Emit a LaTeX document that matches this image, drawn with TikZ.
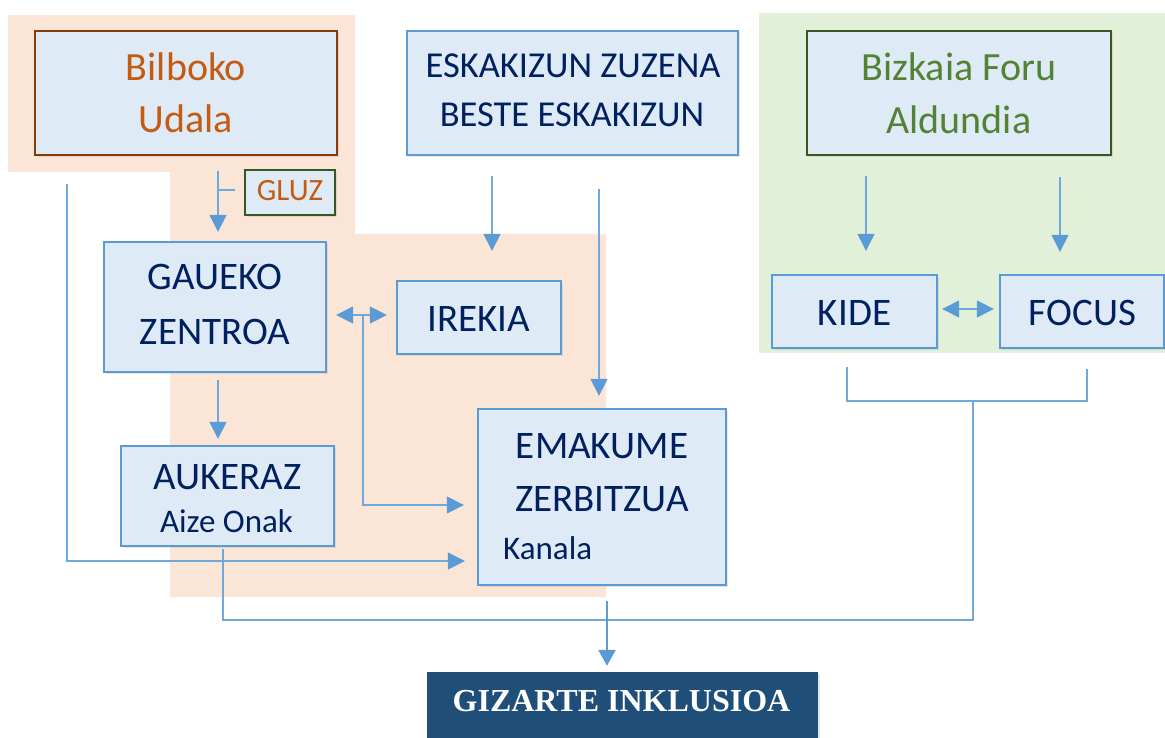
\documentclass[tikz,border=0pt]{standalone}
\usepackage{fontspec}
\setmainfont{Carlito}
\newfontfamily\titlefont{Liberation Serif}
\usetikzlibrary{arrows.meta,calc,shadows}
\definecolor{orangebg}{HTML}{FBE5D6}
\definecolor{greenbg}{HTML}{E2F0D9}
\definecolor{boxfill}{HTML}{DEEBF7}
\definecolor{boxline}{HTML}{5B9BD5}
\definecolor{navy}{HTML}{002060}
\definecolor{orangetxt}{HTML}{C55A11}
\definecolor{brownline}{HTML}{843C0C}
\definecolor{greenline}{HTML}{385723}
\definecolor{greentxt}{HTML}{548235}
\definecolor{titlefill}{HTML}{1F4E79}
\definecolor{lnc}{HTML}{6FA8DC}
\definecolor{arrc}{HTML}{5B9BD5}
\begin{document}
\begin{tikzpicture}[x=1pt,y=-1pt,
  box/.style={draw=boxline, line width=2.3pt, fill=boxfill, inner sep=0pt,
    drop shadow={shadow xshift=2pt, shadow yshift=-2pt, opacity=0.18}},
  txt/.style={anchor=base, inner sep=0pt, text=navy, font=\fontsize{39}{47}\selectfont},
  stxt/.style={anchor=base, inner sep=0pt, text=navy, font=\fontsize{33}{40}\selectfont},
  ln/.style={draw=lnc, line width=1.2pt},
  arr/.style={ln, -{Triangle[length=17pt,width=17pt,color=arrc]}},
  darr/.style={ln, {Triangle[length=17pt,width=17pt,color=arrc]}-{Triangle[length=17pt,width=17pt,color=arrc]}},
  tarr/.style={draw=arrc, line width=2.6pt, -{Triangle[length=16pt,width=17pt,color=arrc]}}
]
\useasboundingbox (0,0) rectangle (1165,738);
% background regions
\fill[orangebg] (8,15) -- (355,15) -- (355,234) -- (606,234) -- (606,597) -- (170,597) -- (170,172) -- (8,172) -- cycle;
\fill[greenbg] (759,13) rectangle (1165,353);

% boxes
\node[box, draw=brownline, minimum width=302pt, minimum height=124pt] (bilbo) at (186,93) {};
\node[box, draw=greenline, line width=1.5pt, minimum width=90pt, minimum height=45pt] (gluz) at (290,192.5) {};
\node[box, minimum width=331pt, minimum height=124pt] (eska) at (572.5,93) {};
\node[box, draw=greenline, minimum width=304pt, minimum height=124pt] (bizk) at (959,93) {};
\node[box, minimum width=222pt, minimum height=130pt] (gaueko) at (215,307) {};
\node[box, minimum width=164pt, minimum height=73pt] (irekia) at (479,317.5) {};
\node[box, minimum width=165pt, minimum height=73pt] (kide) at (854.5,311.5) {};
\node[box, minimum width=164pt, minimum height=73pt] (focus) at (1082,311.5) {};
\node[box, minimum width=213pt, minimum height=100pt] (aukeraz) at (227.5,496) {};
\node[box, minimum width=248pt, minimum height=176pt] (emak) at (602,497) {};
\node[fill=titlefill, inner sep=0pt, minimum width=391pt, minimum height=90pt,
  drop shadow={shadow xshift=2pt, shadow yshift=-2pt, opacity=0.18}] (giz) at (622.5,717) {};

% texts
\node[txt, text=orangetxt, font=\fontsize{40}{48}\selectfont] (t1) at (186,81) {Bilboko};
\node[txt, text=orangetxt, font=\fontsize{40}{48}\selectfont] (t2) at (186,133) {Udala};
\node[txt, text=orangetxt, font=\fontsize{31}{37}\selectfont] (t3) at (290,201) {GLUZ};
\node[txt, font=\fontsize{36.5}{44}\selectfont] (t4) at (573,78) {ESKAKIZUN ZUZENA};
\node[txt, font=\fontsize{36.5}{44}\selectfont] (t5) at (572,127) {BESTE ESKAKIZUN};
\node[txt, text=greentxt, font=\fontsize{40}{48}\selectfont] (t6) at (959,81) {Bizkaia Foru};
\node[txt, text=greentxt, font=\fontsize{40}{48}\selectfont] (t7) at (959,134) {Aldundia};
\node[txt] (t8) at (215,289) {GAUEKO};
\node[txt] (t9) at (215,344) {ZENTROA};
\node[txt] (t10) at (479,331) {IREKIA};
\node[txt] (t11) at (854.5,325) {KIDE};
\node[txt] (t12) at (1082.5,325) {FOCUS};
\node[txt] (t13) at (227.5,489) {AUKERAZ};
\node[stxt] (t14) at (226.5,532) {Aize Onak};
\node[txt] (t15) at (602,458) {EMAKUME};
\node[txt] (t16) at (602,511) {ZERBITZUA};
\node[stxt, anchor=base west] (t17) at (503,559) {Kanala};
\node[anchor=base, inner sep=0pt, text=white, font=\titlefont\bfseries\fontsize{32}{38}\selectfont] (t18) at (621.5,711) {GIZARTE INKLUSIOA};

% free end points
\coordinate (c1) at (218,171);
\coordinate (c2) at (67,184);
\coordinate (c3) at (218,380);
\coordinate (c4) at (363,315);
\coordinate (c5) at (492,176);
\coordinate (c6) at (599,189);
\coordinate (c7) at (223,549);
\coordinate (c8) at (973,620);
\coordinate (c9) at (847,367);
\coordinate (c10) at (1087,369);
\coordinate (c11) at (973,401);
\coordinate (c12) at (607,601);
\coordinate (c13) at (866,176);
\coordinate (c14) at (1060,177);

% connectors
\draw[arr, shorten >=9pt] (c1) -- (c1 |- gaueko.north);
\draw[ln] ($(gluz.west)+(-9,-2.5)$) -- ++(-18,0);
\draw[arr, shorten >=12pt] (c2) |- ($(emak.west)+(0,64)$);
\draw[arr, shorten >=6pt] (c3) -- (c3 |- aukeraz.north);
\draw[darr, shorten <=9pt, shorten >=9pt] (gaueko.east |- c4) -- (irekia.west |- c4);
\draw[arr, shorten >=13pt] (c4) |- ($(emak.west)+(0,8)$);
\draw[arr, shorten >=29pt] (c5) -- (c5 |- irekia.north);
\draw[arr, shorten >=12pt] (c6) -- (c6 |- emak.north);
\draw[ln] (c7) |- (c8) -- (c11);
\draw[ln] (c9) |- (c11) -| (c10);
\draw[tarr, shorten >=6pt] (c12) -- (c12 |- giz.north);
\draw[arr, shorten >=23pt] (c13) -- (c13 |- kide.north);
\draw[arr, shorten >=22pt] (c14) -- (c14 |- focus.north);
\draw[darr, shorten <=4pt, shorten >=5pt] (kide.east |- 0,309) -- (focus.west |- 0,309);
\end{tikzpicture}
\end{document}
